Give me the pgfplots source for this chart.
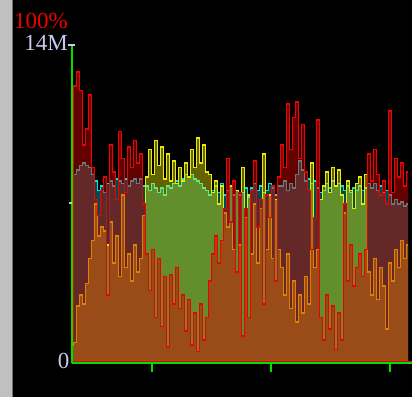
\documentclass[border=0pt]{standalone}
\usepackage{pgfplots}
\pgfplotsset{compat=1.18}
\usepackage{pgfplotstable}
\usepackage{fontspec}
\setmainfont{Liberation Serif}
\definecolor{lav}{RGB}{200,200,240}
\definecolor{gr}{RGB}{0,224,0}
\definecolor{cy}{RGB}{0,230,230}
\definecolor{ye}{RGB}{235,235,0}
\definecolor{rd}{RGB}{240,0,0}
\definecolor{rdfill}{RGB}{220,0,0}
\definecolor{bggrey}{RGB}{192,192,192}

\pgfplotstableread{
x c y r
0 8.0 0.8 1.0
3 8.3 0.9 12.2
6 8.5 2.5 12.8
9 8.7 3.0 12.0
12 8.8 2.6 9.6
15 8.7 3.5 10.3
18 8.6 4.6 11.8
21 8.3 5.4 8.6
24 8.0 7.0 7.2
27 7.6 5.6 6.5
30 7.8 6.0 7.6
33 7.5 5.8 8.2
36 7.9 5.2 3.0
39 8.0 6.2 9.6
42 7.8 4.4 8.4
45 8.1 5.6 7.2
48 8.0 3.8 10.2
51 7.9 7.4 9.0
54 8.1 4.2 7.5
57 7.8 4.8 9.5
60 8.0 3.6 8.6
63 8.1 5.2 9.8
66 7.9 4.0 8.8
69 8.1 4.6 9.2
72 7.8 6.5 7.0
75 7.8 8.2 4.8
78 7.6 9.4 3.2
81 7.9 8.3 5.0
84 7.7 9.8 2.0
87 7.5 8.7 4.6
90 7.7 9.5 1.6
93 7.4 8.1 3.8
96 7.8 9.2 0.7
99 7.7 8.0 3.9
102 7.9 8.9 2.6
105 8.0 7.9 4.2
108 7.8 8.6 2.4
111 8.1 8.0 3.0
114 8.3 8.8 1.4
117 8.2 8.2 2.8
120 8.3 9.4 0.8
123 8.1 8.6 2.2
126 8.0 9.9 0.5
129 7.9 8.8 2.6
132 7.7 9.6 1.0
135 7.6 8.4 2.0
138 7.4 8.3 3.6
141 7.6 7.5 4.8
144 7.8 8.0 5.6
147 7.5 7.0 4.4
150 7.9 7.8 5.4
153 7.4 6.6 6.8
156 7.6 6.0 9.0
159 7.8 7.8 6.2
162 7.4 5.0 8.0
165 7.6 7.6 4.0
168 7.4 5.2 7.5
171 7.5 8.6 1.2
174 7.7 6.4 6.8
177 7.3 7.4 2.0
180 7.7 4.8 7.6
183 7.9 7.0 8.9
186 7.6 4.4 6.0
189 7.8 6.8 7.2
192 7.5 9.2 2.6
195 7.6 5.0 7.4
198 7.9 7.4 6.4
201 7.7 4.6 7.8
204 7.4 7.2 3.6
207 7.8 5.0 8.2
210 7.8 4.2 9.6
213 8.0 3.0 8.6
216 7.6 4.8 11.4
219 7.9 2.4 9.4
222 7.7 3.6 10.8
225 8.3 1.8 11.5
228 8.9 3.0 9.0
231 8.5 2.2 10.5
234 8.0 3.8 8.4
237 8.1 2.6 7.6
240 7.9 8.8 5.0
243 8.0 4.2 6.4
246 7.7 5.0 10.7
249 7.5 7.2 2.0
252 7.6 7.8 1.0
255 7.9 8.4 3.0
258 7.7 7.5 1.5
261 8.0 8.6 2.5
264 7.8 7.8 0.6
267 7.9 8.5 2.2
270 7.8 7.4 1.0
273 7.6 6.6 7.0
276 7.8 8.0 3.6
279 7.5 7.6 5.2
282 7.7 6.8 3.4
285 7.6 7.9 4.2
288 7.8 8.2 4.8
291 7.6 7.0 3.8
294 7.7 8.3 5.0
297 7.9 4.0 9.2
300 7.7 3.0 8.0
303 7.9 4.6 9.4
306 7.6 2.8 8.3
309 7.8 4.2 7.4
312 7.5 3.4 8.0
315 7.6 1.5 7.0
318 7.4 4.4 11.1
321 7.0 3.6 7.5
324 7.2 5.0 9.0
327 7.0 4.2 8.2
330 7.1 5.4 8.8
333 6.9 4.6 7.8
336 7.0 5.2 8.4
}\data

\begin{document}
\begin{tikzpicture}[x=1pt,y=1pt]
\useasboundingbox (0,0) rectangle (412,397);
\fill[black] (0,0) rectangle (412,397);
\fill[bggrey] (0,0) rectangle (12,397);
\fill[black!55] (12,0) rectangle (13,397);
\begin{axis}[
  at={(72pt,34pt)}, anchor=south west,
  scale only axis, width=340pt, height=318pt,
  xmin=0, xmax=340, ymin=0, ymax=14,
  axis x line=bottom, axis y line=left,
  axis line style={-, draw=gr, line width=2pt},
  axis on top=true,
  xtick={80,199,318}, xticklabels={},
  ytick=\empty,
  tick align=outside, major tick length=9pt,
  x tick style={draw=gr, line width=1.5pt},
  every axis plot/.append style={const plot mark mid},
]
\addplot[draw=none, fill=cy, fill opacity=0.33] table[x=x,y=c]{\data} \closedcycle;
\addplot[draw=cy, line width=1.6pt] table[x=x,y=c]{\data};
\addplot[draw=none, fill=ye, fill opacity=0.42] table[x=x,y=y]{\data} \closedcycle;
\addplot[draw=ye, line width=1.6pt] table[x=x,y=y]{\data};
\addplot[draw=none, fill=rdfill, fill opacity=0.46] table[x=x,y=r]{\data} \closedcycle;
\addplot[draw=rd, line width=1.6pt] table[x=x,y=r]{\data};
\addplot[draw=rd, line width=1pt] coordinates {(0,0.08) (340,0.08)};
\end{axis}
\draw[lav, line width=1.2pt] (68,352) -- (75,352);
\draw[black!20, line width=1.2pt] (68.5,194) -- (72,194);
\node[anchor=east, inner sep=0pt, text=rd, font=\fontsize{23}{23}\selectfont] at (68,375.5) {100\%};
\node[anchor=east, inner sep=0pt, text=lav, font=\fontsize{23}{23}\selectfont] at (68,354.5) {14M};
\node[anchor=east, inner sep=0pt, text=lav, font=\fontsize{23}{23}\selectfont] at (69.5,36.5) {0};
\end{tikzpicture}
\end{document}
